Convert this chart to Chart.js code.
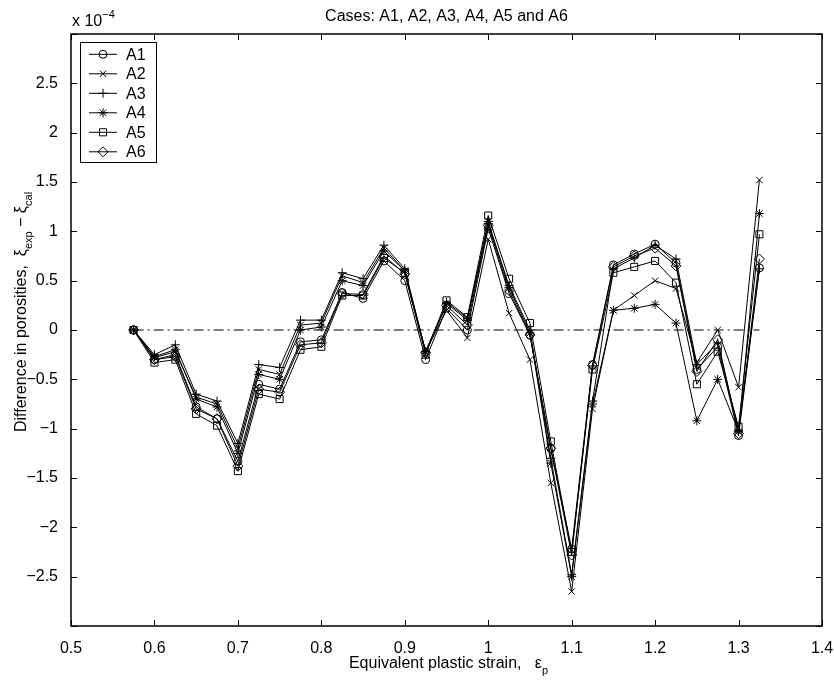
<!DOCTYPE html>
<html>
<head>
<meta charset="utf-8">
<title>Cases: A1, A2, A3, A4, A5 and A6</title>
<script src="https://cdn.jsdelivr.net/npm/chart.js@4/dist/chart.umd.min.js"></script>
<style>
  html, body { margin: 0; padding: 0; background: #fff; }
  canvas { display: block; }
</style>
</head>
<body>
<canvas id="chart" width="834" height="680"></canvas>
<script>
// --- Data (difference in porosities, units of 1e-4) ---
const strain = [0.575, 0.6, 0.625, 0.65, 0.675, 0.7, 0.725, 0.75, 0.775, 0.8,
  0.825, 0.85, 0.875, 0.9, 0.925, 0.95, 0.975, 1.0, 1.025, 1.05,
  1.075, 1.1, 1.125, 1.15, 1.175, 1.2, 1.225, 1.25, 1.275, 1.3, 1.325];

const A1 = [0, -0.30, -0.25, -0.78, -0.90, -1.33, -0.55, -0.60, -0.12, -0.10,
  0.38, 0.32, 0.70, 0.50, -0.30, 0.22, 0.00, 1.03, 0.37, -0.05,
  -1.20, -2.22, -0.35, 0.66, 0.77, 0.87, 0.68, -0.40, -0.17, -1.07, 0.63];
const A2 = [0, -0.28, -0.22, -0.68, -0.75, -1.20, -0.40, -0.45, 0.05, 0.07,
  0.55, 0.48, 0.83, 0.60, -0.22, 0.20, -0.08, 0.92, 0.17, -0.30,
  -1.55, -2.65, -0.80, 0.20, 0.35, 0.50, 0.42, -0.33, 0.00, -0.58, 1.52];
const A3 = [0, -0.25, -0.15, -0.65, -0.72, -1.15, -0.35, -0.38, 0.10, 0.10,
  0.58, 0.52, 0.86, 0.62, -0.22, 0.28, 0.12, 1.08, 0.45, 0.00,
  -1.30, -2.48, -0.72, 0.62, 0.73, 0.86, 0.72, -0.35, -0.13, -1.02, 0.62];
const A4 = [0, -0.27, -0.20, -0.70, -0.78, -1.25, -0.45, -0.50, 0.00, 0.03,
  0.50, 0.45, 0.80, 0.60, -0.22, 0.27, 0.10, 1.10, 0.43, -0.03,
  -1.35, -2.50, -0.75, 0.20, 0.22, 0.26, 0.07, -0.92, -0.50, -1.03, 1.18];
const A5 = [0, -0.33, -0.30, -0.85, -0.97, -1.43, -0.65, -0.70, -0.20, -0.17,
  0.35, 0.35, 0.73, 0.58, -0.25, 0.30, 0.13, 1.16, 0.52, 0.07,
  -1.13, -2.25, -0.40, 0.58, 0.64, 0.70, 0.48, -0.55, -0.22, -0.98, 0.97];
const A6 = [0, -0.30, -0.27, -0.80, -0.90, -1.38, -0.60, -0.63, -0.15, -0.13,
  0.37, 0.36, 0.75, 0.57, -0.23, 0.25, 0.05, 1.06, 0.40, -0.05,
  -1.20, -2.28, -0.36, 0.64, 0.75, 0.83, 0.65, -0.42, -0.10, -1.05, 0.72];

const zeroLine = [[0.575, 0], [1.325, 0]];

const xRange = [0.5, 1.4];
const yRange = [-3, 3];

// --- Styles ---
const FONT = '"Liberation Sans", Arial, Helvetica, sans-serif';
const series = [
  { label: 'A1', values: A1, style: 'circle', r: 4 },
  { label: 'A2', values: A2, style: 'crossRot', r: 4.5 },
  { label: 'A3', values: A3, style: 'cross', r: 4.5 },
  { label: 'A4', values: A4, style: 'star', r: 4.5 },
  { label: 'A5', values: A5, style: 'rect', r: 5 },
  { label: 'A6', values: A6, style: 'rectRot', r: 5 },
];

Chart.defaults.font.family = FONT;
Chart.defaults.font.size = 16;
Chart.defaults.color = '#000';

function fmt(v) {
  return String(+v.toFixed(2)).replace('-', '\u2212');
}

// draws text made of normal / subscript / superscript parts
function richText(ctx, parts, x, y, align) {
  const big = '16px ' + FONT, small = '11px ' + FONT;
  let w = 0;
  parts.forEach(([t, k]) => { ctx.font = k ? small : big; w += ctx.measureText(t).width; });
  let cx = align === 'center' ? x - w / 2 : x;
  parts.forEach(([t, k]) => {
    ctx.font = k ? small : big;
    const dy = k === 'sub' ? 6 : k === 'sup' ? -8 : 0;
    ctx.fillText(t, cx, y + dy);
    cx += ctx.measureText(t).width;
  });
}

const datasets = series.map(s => ({
  label: s.label,
  data: strain.map((x, i) => ({ x, y: s.values[i] })),
  borderColor: '#000',
  borderWidth: 1,
  pointStyle: s.style,
  pointRadius: s.r,
  pointBorderColor: '#000',
  pointBackgroundColor: 'rgba(0,0,0,0)',
  pointBorderWidth: 1,
  tension: 0,
}));

datasets.push({
  label: 'zero',
  data: zeroLine.map(([x, y]) => ({ x, y })),
  borderColor: '#000',
  borderWidth: 1,
  borderDash: [10, 4, 2, 4],
  pointRadius: 0,
});

// --- Frame, inward ticks, legend, labels (MATLAB look) ---
const matlabFrame = {
  id: 'matlabFrame',
  afterDraw(chart) {
    const { ctx, chartArea: a, scales: { x, y } } = chart;
    ctx.save();
    ctx.strokeStyle = '#000';
    ctx.fillStyle = '#000';

    // ticks
    ctx.lineWidth = 1;
    const tl = 6;
    ctx.beginPath();
    x.ticks.forEach(t => {
      const px = Math.round(x.getPixelForValue(t.value)) + 0.5;
      ctx.moveTo(px, a.bottom); ctx.lineTo(px, a.bottom - tl);
      ctx.moveTo(px, a.top); ctx.lineTo(px, a.top + tl);
    });
    y.ticks.forEach(t => {
      const py = Math.round(y.getPixelForValue(t.value)) + 0.5;
      ctx.moveTo(a.left, py); ctx.lineTo(a.left + tl, py);
      ctx.moveTo(a.right, py); ctx.lineTo(a.right - tl, py);
    });
    ctx.stroke();

    // box
    ctx.lineWidth = 1.5;
    ctx.strokeRect(a.left, a.top, a.right - a.left, a.bottom - a.top);

    // legend
    const lx = 80, ly = 42, lw = 76, lh = 120;
    ctx.fillStyle = '#fff';
    ctx.fillRect(lx, ly, lw, lh);
    ctx.lineWidth = 1;
    ctx.strokeRect(lx + 0.5, ly + 0.5, lw, lh);
    ctx.fillStyle = '#000';
    ctx.textBaseline = 'middle';
    ctx.textAlign = 'left';
    series.forEach((s, i) => {
      const ry = ly + 12.3 + i * 19.5;
      ctx.beginPath();
      ctx.moveTo(89, ry); ctx.lineTo(117, ry);
      ctx.lineWidth = 1;
      ctx.stroke();
      ctx.fillStyle = 'rgba(0,0,0,0)';
      Chart.helpers.drawPoint(ctx, { pointStyle: s.style, radius: s.r, rotation: 0, borderWidth: 1 }, 103, ry);
      ctx.fillStyle = '#000';
      ctx.font = '16px ' + FONT;
      ctx.fillText(s.label, 126, ry + 1);
    });

    // title, exponent, axis titles
    ctx.textBaseline = 'alphabetic';
    ctx.font = '16px ' + FONT;
    ctx.textAlign = 'center';
    ctx.fillText('Cases: A1, A2, A3, A4, A5 and A6', (a.left + a.right) / 2, 21);
    ctx.textAlign = 'left';
    richText(ctx, [['x 10', ''], ['\u22124', 'sup']], 72, 26, 'left');
    richText(ctx, [['Equivalent plastic strain,   \u03b5', ''], ['p', 'sub']], (a.left + a.right) / 2 + 2, 668, 'center');

    ctx.translate(26, 312);
    ctx.rotate(-Math.PI / 2);
    richText(ctx, [['Difference in porosities,  \u03be', ''], ['exp', 'sub'], [' \u2212 \u03be', ''], ['cal', 'sub']], 0, 0, 'center');
    ctx.restore();
  }
};

new Chart(document.getElementById('chart'), {
  type: 'line',
  data: { datasets },
  options: {
    responsive: false,
    animation: false,
    devicePixelRatio: 1,
    layout: { padding: { top: 34, right: 12, left: 0, bottom: 0 } },
    plugins: {
      legend: { display: false },
      tooltip: { enabled: false },
      title: { display: false },
    },
    scales: {
      x: {
        type: 'linear',
        min: xRange[0],
        max: xRange[1],
        grid: { display: false },
        border: { display: false },
        ticks: { stepSize: 0.1, padding: 5, maxRotation: 0, autoSkip: false, callback: v => fmt(v) },
        afterFit: s => { s.height = 54; s.paddingLeft = 0; s.paddingRight = 0; },
      },
      y: {
        type: 'linear',
        min: yRange[0],
        max: yRange[1],
        grid: { display: false },
        border: { display: false },
        ticks: { stepSize: 0.5, padding: 5, autoSkip: false, callback: v => (Math.abs(v) > 2.9 ? '' : fmt(v)) },
        afterFit: s => { s.width = 71; s.paddingTop = 0; s.paddingBottom = 0; },
      },
    },
  },
  plugins: [matlabFrame],
});
</script>
</body>
</html>
